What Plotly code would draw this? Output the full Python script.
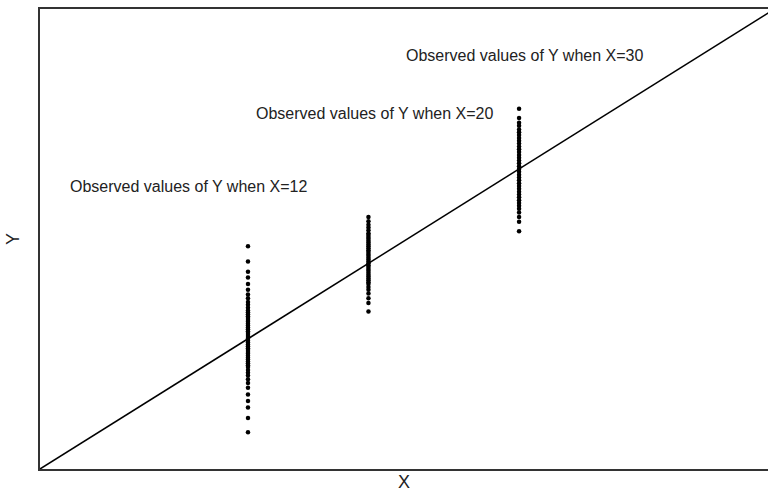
import plotly.graph_objects as go

# Observed values of Y at three X levels
x_levels = [12, 20, 30]
y_at_12 = [21.8, 20.2, 19.1, 18.5, 17.8, 17.2, 16.7, 16.3, 15.9, 15.6, 15.3, 15.0,
           14.8, 14.6, 14.4, 14.2, 14.0, 13.8, 13.6, 13.4, 13.2, 13.0, 12.8, 12.6,
           12.4, 12.2, 12.0, 11.8, 11.6, 11.4, 11.2, 11.0, 10.8, 10.6, 10.4, 10.2,
           10.0, 9.8, 9.6, 9.4, 9.2, 9.0, 8.7, 8.4, 8.1, 7.7, 7.3, 6.8, 6.1, 5.4,
           4.7, 3.6, 2.1]
y_at_20 = [24.9, 24.45, 24.1, 23.8, 23.5, 23.2, 23.0, 22.8, 22.6, 22.4, 22.2, 22.0,
           21.8, 21.6, 21.4, 21.2, 21.0, 20.8, 20.6, 20.4, 20.2, 20.0, 19.8, 19.6,
           19.4, 19.2, 19.0, 18.8, 18.6, 18.4, 18.2, 18.0, 17.8, 17.5, 17.2, 16.8,
           16.3, 15.8, 14.9]
y_at_30 = [36.4, 35.4, 34.9, 34.6, 34.2, 33.9, 33.6, 33.3, 33.0, 32.7, 32.4, 32.1,
           31.8, 31.5, 31.2, 30.9, 30.6, 30.3, 30.0, 29.7, 29.4, 29.1, 28.8, 28.5,
           28.2, 27.9, 27.6, 27.3, 27.0, 26.7, 26.4, 26.1, 25.8, 25.4, 24.9, 24.4,
           23.4]
y_columns = [y_at_12, y_at_20, y_at_30]

# Population regression line E(Y) = b0 + b1 X
line_x = [-1.81, 60]
b0, b1 = 0.0, 1.0
line_y = [b0 + b1 * v for v in line_x]

labels = ["Observed values of Y when X=12",
          "Observed values of Y when X=20",
          "Observed values of Y when X=30"]
label_x = [0.05, 12.4, 22.36]
label_y = [28.2, 35.94, 42.09]

fig = go.Figure()
fig.add_trace(go.Scatter(x=line_x, y=line_y, mode="lines",
                         line=dict(color="black", width=1.5),
                         hoverinfo="skip", showlegend=False))
for xv, ys in zip(x_levels, y_columns):
    fig.add_trace(go.Scatter(x=[xv] * len(ys), y=ys, mode="markers",
                             marker=dict(color="black", size=4.5),
                             showlegend=False))

for t, xv, yv in zip(labels, label_x, label_y):
    fig.add_annotation(x=xv, y=yv, text=t, showarrow=False, xanchor="left",
                       yanchor="middle",
                       font=dict(family="Liberation Sans, Arial", size=16,
                                 color="#222"))

fig.update_layout(
    width=768, height=495,
    margin=dict(l=40, r=0, t=9, b=26),
    paper_bgcolor="white", plot_bgcolor="white",
    font=dict(family="Liberation Sans, Arial", size=15, color="#222"),
    xaxis=dict(range=[-1.81, 46.53], showgrid=False, zeroline=False,
               showticklabels=False, ticks="", showline=True, mirror=True,
               linecolor="#333", linewidth=1.5,
               title=dict(text="X", standoff=6)),
    yaxis=dict(range=[-1.81, 46.97], showgrid=False, zeroline=False,
               showticklabels=False, ticks="", showline=True, mirror=False,
               linecolor="#333", linewidth=1.5,
               title=dict(text="Y", standoff=14)),
)

fig.write_html("out.html")
